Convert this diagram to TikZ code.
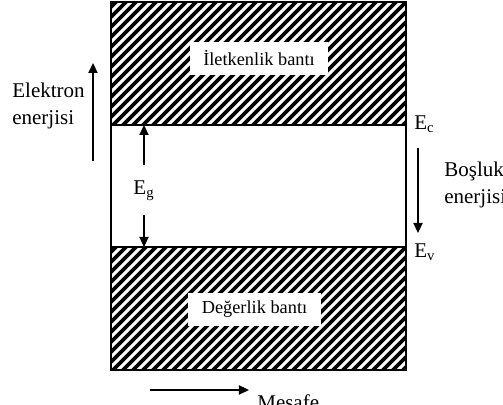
\documentclass[tikz,border=0pt]{standalone}
\usepackage{fontspec}
\setmainfont{Liberation Serif}
\usetikzlibrary{calc,positioning,arrows.meta}

\tikzset{
  frame/.style={draw=black,line width=1pt},
  hatch/.style={line width=2.2pt},
  bandlabel/.style={fill=white,inner xsep=8pt,minimum height=19.8pt,font=\fontsize{11}{13}\selectfont},
  sidelabel/.style={align=left,anchor=west,inner sep=0pt,font=\fontsize{12.6}{16}\selectfont},
  level/.style={inner sep=0pt,font=\fontsize{12.6}{14}\selectfont},
  arr/.style={-{Triangle[length=6pt,width=5.5pt]},line width=0.9pt},
}

\begin{document}
\begin{tikzpicture}[x=0.6pt,y=-0.6pt]
\useasboundingbox (0,0) rectangle (503,405);
% band corners
\coordinate (cbtop) at (111,2);
\coordinate (cbbot) at (406,125);
\coordinate (vbtop) at (111,247);
\coordinate (vbbot) at (406,370);
% hatching
\foreach \a/\b in {cbtop/cbbot,vbtop/vbbot}{
  \begin{scope}
    \clip (\a) rectangle (\b);
    \foreach \i in {0,...,44}
      \draw[hatch] ($(\a)+(\i*10-130,125)$) -- ++(140,-140);
  \end{scope}
}
% outline
\draw[frame] (cbtop) rectangle (vbbot);
\draw[frame] (cbbot -| cbtop) -- (cbbot);
\draw[frame] (vbtop) -- (vbtop -| vbbot);
% band names
\node[bandlabel] (cblabel) at (259,58.5) {İletkenlik bantı};
\node[bandlabel] (vblabel) at (254.5,309.5) {Değerlik bantı};
% electron energy
\node[sidelabel] (elabel) at (12,106) {Elektron\\enerjisi};
\coordinate (etail) at (93,161);
\coordinate (ehead) at (93,63);
\draw[arr] (etail) -- (ehead);
% band gap
\node[level] (eg) at (144,191) {E\textsubscript{g}};
\coordinate (egup) at (144,165);
\coordinate (egdown) at (144,215);
\draw[arr] (egup) -- (egup |- cbbot);
\draw[arr] (egdown) -- (egdown |- vbtop);
% band edges
\node[level,anchor=base west] (ec) at (414,130) {E\textsubscript{c}};
\node[level,anchor=base west] (ev) at (414,258) {E\textsubscript{v}};
\coordinate (gtail) at (418,148);
\coordinate (ghead) at (418,233);
\draw[arr] (gtail) -- (ghead);
\node[sidelabel] (glabel) at (444,185) {Boşluk\\enerjisi};
% distance
\coordinate (dtail) at (150,390);
\coordinate (dhead) at (249,390);
\draw[arr] (dtail) -- (dhead);
\node[level,anchor=base west] (dlabel) at (257,410) {Mesafe};
\end{tikzpicture}
\end{document}
